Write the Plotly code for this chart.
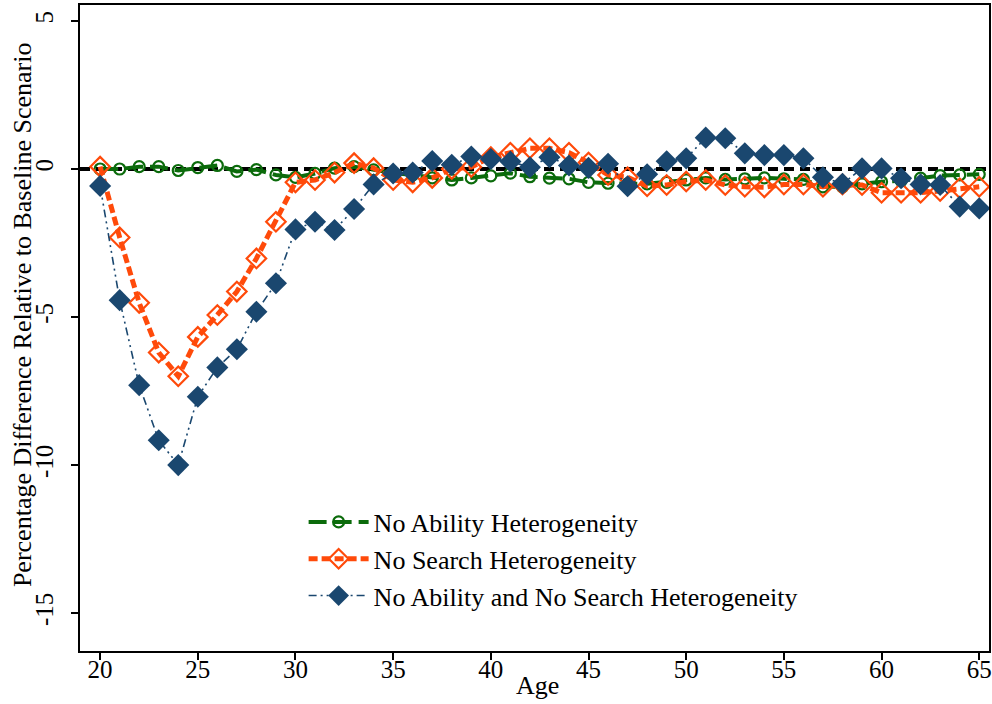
import plotly.graph_objects as go

ages = list(range(20, 66))

no_ability = [0.0, 0.0, 0.08, 0.08, -0.05, 0.05, 0.12, -0.08, -0.02, -0.2,
              -0.28, -0.15, 0.03, 0.08, -0.03, -0.13, -0.2, -0.3, -0.37, -0.3,
              -0.23, -0.14, -0.26, -0.31, -0.33, -0.45, -0.48, -0.5, -0.5, -0.45,
              -0.37, -0.3, -0.35, -0.33, -0.3, -0.33, -0.35, -0.6, -0.6, -0.5,
              -0.43, -0.4, -0.31, -0.22, -0.2, -0.18]

no_search = [0.08, -2.31, -4.52, -6.2, -7.0, -5.67, -4.93, -4.14, -3.02, -1.78,
             -0.45, -0.37, -0.12, 0.2, 0.03, -0.37, -0.45, -0.3, 0.0, 0.07,
             0.4, 0.55, 0.7, 0.7, 0.55, 0.22, -0.2, -0.28, -0.58, -0.54,
             -0.42, -0.37, -0.54, -0.6, -0.62, -0.52, -0.52, -0.6, -0.52, -0.54,
             -0.8, -0.8, -0.8, -0.74, -0.65, -0.6]

no_both = [-0.57, -4.43, -7.3, -9.16, -10.0, -7.69, -6.7, -6.09, -4.82, -3.86,
           -2.04, -1.78, -2.06, -1.35, -0.52, -0.15, -0.12, 0.27, 0.14, 0.42,
           0.34, 0.25, 0.06, 0.4, 0.12, 0.04, 0.18, -0.58, -0.18, 0.26,
           0.36, 1.06, 1.04, 0.53, 0.47, 0.47, 0.36, -0.28, -0.5, 0.02,
           0.02, -0.31, -0.52, -0.54, -1.27, -1.33]

x_ticks = [20, 25, 30, 35, 40, 45, 50, 55, 60, 65]
y_ticks = [5, 0, -5, -10, -15]

x_title = "Age"
y_title = "Percentage Difference Relative to Baseline Scenario"

FONT = "Liberation Serif"

fig = go.Figure()

fig.add_trace(go.Scatter(
    x=ages, y=no_ability, name="No Ability Heterogeneity", mode="lines+markers",
    legendgroup="a",
    line=dict(color="#0b6b0b", width=4, dash="18px,7px"),
    marker=dict(symbol="circle-open", size=11, color="#0b6b0b", line=dict(width=2.2)),
))
fig.add_trace(go.Scatter(
    x=ages, y=no_search, name="No Search Heterogeneity", mode="lines+markers",
    legendgroup="b",
    line=dict(color="#ff4a0a", width=5, dash="9px,4px"),
    marker=dict(symbol="diamond-open", size=15, color="#ff4a0a", line=dict(width=2.2)),
))
fig.add_trace(go.Scatter(
    x=ages, y=no_both, name="No Ability and No Search Heterogeneity", mode="lines+markers",
    legendgroup="c",
    line=dict(color="#1a476f", width=1.6, dash="8px,4px,2px,4px,2px,4px"),
    marker=dict(symbol="diamond", size=17, color="#1a476f"),
))

fig.add_hline(y=0, line=dict(color="black", width=4, dash="10px,6px"), layer="below")

fig.add_annotation(text=y_title, xref="paper", yref="paper", x=-0.0638, y=0.52,
                   textangle=-90, showarrow=False, xanchor="center", yanchor="middle",
                   font=dict(family=FONT, size=26, color="black"))
fig.add_annotation(text=x_title, xref="paper", yref="paper", x=0.503, y=-0.054,
                   showarrow=False, xanchor="center", yanchor="middle",
                   font=dict(family=FONT, size=26, color="black"))

fig.update_layout(
    width=992, height=704,
    margin=dict(l=80, r=3, t=5, b=53),
    paper_bgcolor="white", plot_bgcolor="white",
    font=dict(family=FONT, size=24, color="black"),
    showlegend=True,
    legend=dict(x=0.246, y=0.236, xanchor="left", yanchor="top",
                font=dict(family=FONT, size=26, color="black"),
                bgcolor="rgba(0,0,0,0)", tracegroupgap=0, itemwidth=60),
    xaxis=dict(range=[18.97, 65.5], tickvals=x_ticks, ticktext=[str(v) for v in x_ticks],
               ticks="outside", ticklen=7, tickwidth=1.5, tickcolor="black",
               ticklabelstandoff=-12, ticklabeloverflow="allow",
               showline=True, linecolor="black", linewidth=2, mirror=True,
               showgrid=False, zeroline=False, automargin=False,
               tickfont=dict(family=FONT, size=25)),
    yaxis=dict(range=[-16.28, 5.54], tickvals=y_ticks, ticktext=[str(v) for v in y_ticks],
               ticks="outside", ticklen=7, tickwidth=1.5, tickcolor="black",
               tickangle=-90, ticklabelstandoff=8, ticklabeloverflow="allow",
               showline=True, linecolor="black", linewidth=2, mirror=True,
               showgrid=False, zeroline=False, automargin=False,
               tickfont=dict(family=FONT, size=25)),
)

fig.write_html("out.html")
